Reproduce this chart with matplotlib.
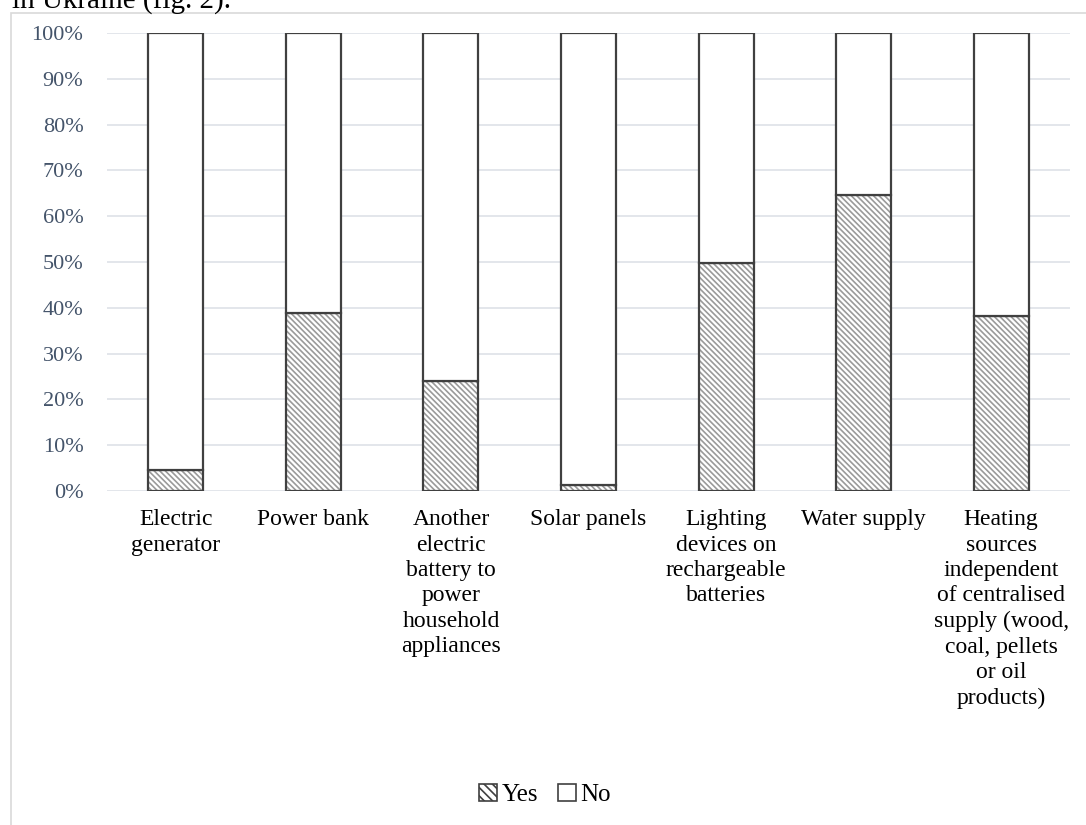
import matplotlib
matplotlib.use("Agg")
import matplotlib.pyplot as plt
from matplotlib.patches import Rectangle, Patch
from matplotlib.ticker import PercentFormatter

categories = [
    "Electric\ngenerator",
    "Power bank",
    "Another\nelectric\nbattery to\npower\nhousehold\nappliances",
    "Solar panels",
    "Lighting\ndevices on\nrechargeable\nbatteries",
    "Water supply",
    "Heating\nsources\nindependent\nof centralised\nsupply (wood,\ncoal, pellets\nor oil\nproducts)",
]
yes_vals = [4.6, 38.9, 24.1, 1.3, 49.7, 64.6, 38.3]
no_vals = [100 - v for v in yes_vals]
yticks = list(range(0, 101, 10))

plt.rcParams['font.family'] = ['Liberation Serif', 'DejaVu Serif']
plt.rcParams['hatch.linewidth'] = 1.2

W, H = 1086, 825
fig = plt.figure(figsize=(W / 100, H / 100), dpi=100)
ax = fig.add_axes([107 / W, 1 - 491 / H, (1070 - 107) / W, (491 - 33) / H])

# outer chart frame
fig.patches.append(Rectangle((11 / W, -0.01), 1.1, 1 - 13 / H + 0.01,
                             transform=fig.transFigure, fill=False,
                             edgecolor='#D9D9D9', linewidth=1.2, zorder=0))
fig.text(12 / W, 1 - 9 / H, "in Ukraine (fig. 2).", fontsize=21,
         ha='left', va='baseline', color='black')

x = list(range(len(categories)))
width = 0.4
edge = '#404040'
hatch = '\\' * 6
ax.bar(x, yes_vals, width, color='white', edgecolor='#9A9A9A', hatch=hatch,
       linewidth=0, zorder=2)
ax.bar(x, yes_vals, width, color='none', edgecolor=edge, linewidth=1.6, zorder=3)
ax.bar(x, no_vals, width, bottom=yes_vals, color='white', edgecolor=edge,
       linewidth=1.6, zorder=3)

ax.set_xlim(-0.5, len(categories) - 0.5)
ax.set_ylim(0, 100)
ax.set_yticks(yticks)
ax.yaxis.set_major_formatter(PercentFormatter(decimals=0))
ax.grid(axis='y', color='#DEE2E8', linewidth=1.2, zorder=0)
ax.set_axisbelow(True)
for s in ax.spines.values():
    s.set_visible(False)
ax.tick_params(axis='y', length=0, pad=17, labelsize=16, labelcolor='#44546A')
ax.tick_params(axis='x', length=0, pad=13, labelsize=17, labelcolor='black')
ax.set_xticks(x)
ax.set_xticklabels(categories, linespacing=1.28, va='top')

handles = [Patch(facecolor='white', edgecolor=edge, hatch='\\' * 4, linewidth=1.2),
           Patch(facecolor='white', edgecolor=edge, linewidth=1.2)]
fig.legend(handles, ['Yes', 'No'], loc='center', bbox_to_anchor=(545 / W, 1 - 795 / H),
           ncol=2, frameon=False, fontsize=18, handlelength=0.7, handleheight=0.7,
           handletextpad=0.2, columnspacing=0.8)

fig.savefig('out.png', dpi=100)
